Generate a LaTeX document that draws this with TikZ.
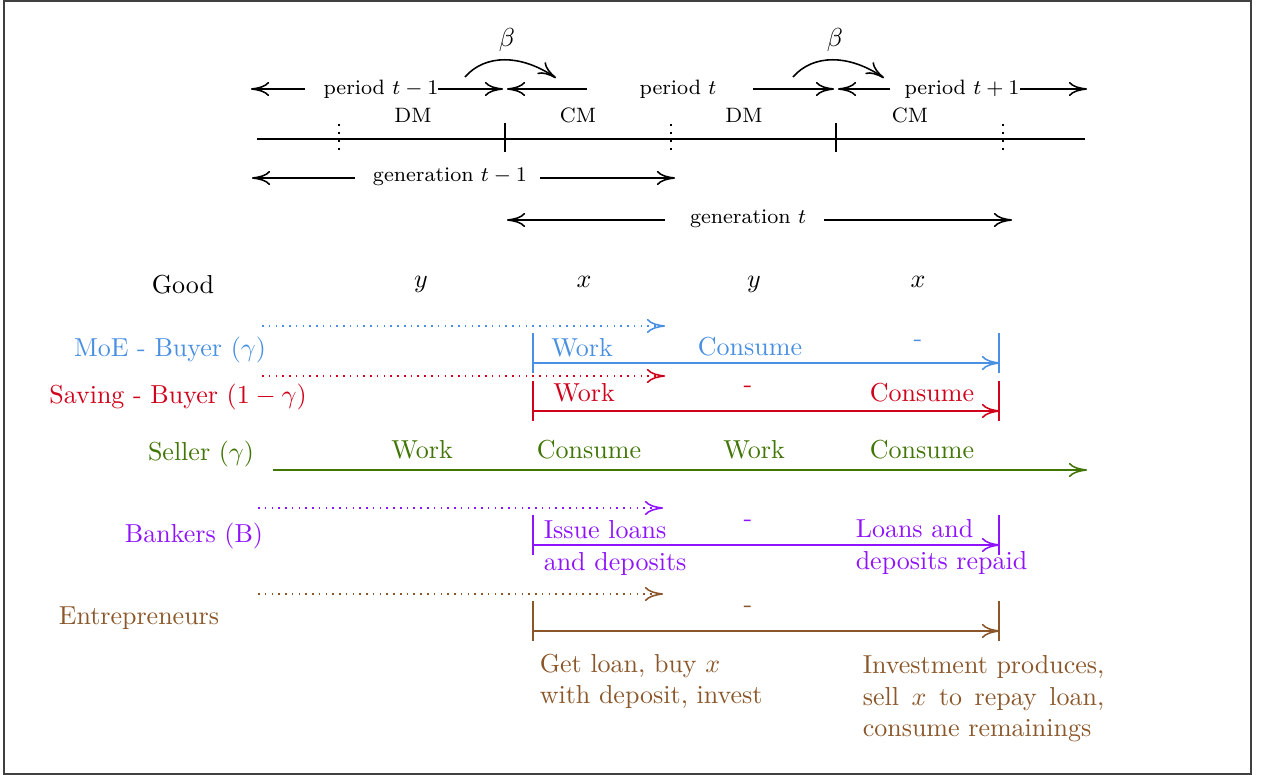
\documentclass[tikz,border=0pt]{standalone}
\usepackage{calc}
\usetikzlibrary{arrows.meta}
\definecolor{cblue}{HTML}{4A90E2}
\definecolor{cred}{HTML}{D0021B}
\definecolor{cgreen}{HTML}{417505}
\definecolor{cpurple}{HTML}{9013FE}
\definecolor{cbrown}{HTML}{8B572A}
\begin{document}
\begin{tikzpicture}[x=0.3846pt,y=-0.3846pt,line width=0.6pt,
  arr/.style={-{Computer Modern Rightarrow[length=7pt,width=5.5pt]}},
  lab/.style={anchor=base,inner sep=0pt},
  sm/.style={lab,font=\footnotesize},
  multi/.style={anchor=north west,inner sep=0pt,align=left},
  vdot/.style={line width=0.8pt,dash pattern=on 0.8pt off 2.3pt},
  dots/.style={arr,dotted}]
\useasboundingbox (0,0) rectangle (1261,775);
\draw[black!75] (4,1) rectangle (1251,774);

% ---------- periods ----------
\node[sm] (p1) at (381,94) {period $t-1$};
\node[sm] (p2) at (678,94) {period $t$};
\node[sm] (p3) at (962,94) {period $t+1$};
\coordinate (p1l) at (305,89); \coordinate (p1le) at (251,89);
\coordinate (p1r) at (438,89); \coordinate (p1re) at (503,89);
\coordinate (p2l) at (587,89); \coordinate (p2le) at (507,89);
\coordinate (p2r) at (753,89); \coordinate (p2re) at (834,89);
\coordinate (p3l) at (890,89); \coordinate (p3le) at (838,89);
\coordinate (p3r) at (1020,89); \coordinate (p3re) at (1087,89);
\draw[arr] (p1l) -- (p1le);
\draw[arr] (p1r) -- (p1re);
\draw[arr] (p2l) -- (p2le);
\draw[arr] (p2r) -- (p2re);
\draw[arr] (p3l) -- (p3le);
\draw[arr] (p3r) -- (p3re);

% beta arcs
\node (b1) at (507,40) {$\beta$};
\node (b2) at (835,40) {$\beta$};
\coordinate (b1s) at (465,77); \coordinate (b1e) at (556,78);
\coordinate (b2s) at (793,77); \coordinate (b2e) at (884,78);
\draw[arr] (b1s) .. controls (485,54) and (521,54) .. (b1e);
\draw[arr] (b2s) .. controls (813,54) and (849,54) .. (b2e);

% main time line
\coordinate (tl) at (257,139); \coordinate (tr) at (1085,139);
\draw (tl) -- (tr);
\coordinate (k1t) at (505,123); \coordinate (k1b) at (505,152);
\coordinate (k2t) at (836,123); \coordinate (k2b) at (836,152);
\draw (k1t) -- (k1b);
\draw (k2t) -- (k2b);
\coordinate (d1t) at (339,124); \coordinate (d1b) at (339,150);
\coordinate (d2t) at (671,124); \coordinate (d2b) at (671,150);
\coordinate (d3t) at (1003,124); \coordinate (d3b) at (1003,150);
\draw[vdot] (d1t) -- (d1b);
\draw[vdot] (d2t) -- (d2b);
\draw[vdot] (d3t) -- (d3b);
\node[sm] (dm1) at (413,123) {DM};
\node[sm] (cm1) at (578,123) {CM};
\node[sm] (dm2) at (744,123) {DM};
\node[sm] (cm2) at (910,123) {CM};

% generations
\node[sm] (g1) at (450,181) {generation $t-1$};
\node[sm] (g2) at (748,223) {generation $t$};
\coordinate (g1l) at (355,178); \coordinate (g1le) at (252,178);
\coordinate (g1r) at (540,178); \coordinate (g1re) at (675,178);
\coordinate (g2l) at (665,220); \coordinate (g2le) at (507,220);
\coordinate (g2r) at (824,220); \coordinate (g2re) at (1012,220);
\draw[arr] (g1l) -- (g1le);
\draw[arr] (g1r) -- (g1re);
\draw[arr] (g2l) -- (g2le);
\draw[arr] (g2r) -- (g2re);

% goods
\node[lab] (good) at (183,293) {Good};
\node[lab] (gy1) at (421,287) {$y$};
\node[lab] (gx1) at (584,287) {$x$};
\node[lab] (gy2) at (754,287) {$y$};
\node[lab] (gx2) at (918,287) {$x$};

% ---------- MoE buyer ----------
\begin{scope}[cblue]
\node[lab] (moe) at (170,356) {MoE - Buyer ($\gamma$)};
\coordinate (moeds) at (262,326); \coordinate (moede) at (665,326);
\draw[dots] (moeds) -- (moede);
\coordinate (moea) at (533,363); \coordinate (moeb) at (1000,363);
\draw[arr] (moea) -- (moeb);
\draw (533,333) -- (533,373);
\draw (999,333) -- (999,373);
\node[lab] (moew) at (582,356) {Work};
\node[lab] (moec) at (750,355) {Consume};
\node[lab] (moen) at (918,346) {-};
\end{scope}

% ---------- Saving buyer ----------
\begin{scope}[cred]
\node[lab] (sav) at (178,403) {Saving - Buyer ($1-\gamma$)};
\coordinate (savds) at (262,376); \coordinate (savde) at (665,376);
\draw[dots] (savds) -- (savde);
\coordinate (sava) at (533,411); \coordinate (savb) at (1000,411);
\draw[arr] (sava) -- (savb);
\draw (533,381) -- (533,421);
\draw (999,381) -- (999,421);
\node[lab] (savw) at (584,401) {Work};
\node[lab] (savn) at (748,392) {-};
\node[lab] (savc) at (922,401) {Consume};
\end{scope}

% ---------- Seller ----------
\begin{scope}[cgreen]
\node[lab] (sel) at (201,460) {Seller ($\gamma$)};
\coordinate (sela) at (273,470); \coordinate (selb) at (1087,470);
\draw[arr] (sela) -- (selb);
\node[lab] (selw1) at (422,458) {Work};
\node[lab] (selc1) at (589,458) {Consume};
\node[lab] (selw2) at (754,458) {Work};
\node[lab] (selc2) at (922,458) {Consume};
\end{scope}

% ---------- Bankers ----------
\begin{scope}[cpurple]
\node[lab] (bank) at (194,542) {Bankers (B)};
\coordinate (bankds) at (258,508); \coordinate (bankde) at (663,508);
\draw[dots] (bankds) -- (bankde);
\coordinate (banka) at (533,545); \coordinate (bankb) at (1000,545);
\draw[arr] (banka) -- (bankb);
\draw (533,515) -- (533,555);
\draw (999,515) -- (999,555);
\node[multi] (banki) at (543,520) {Issue loans\\and deposits};
\node[lab] (bankn) at (748,526) {-};
\node[multi] (bankr) at (855,519) {Loans and\\deposits repaid};
\end{scope}

% ---------- Entrepreneurs ----------
\begin{scope}[cbrown]
\node[lab] (ent) at (139,624) {Entrepreneurs};
\coordinate (entds) at (258,594); \coordinate (entde) at (663,594);
\draw[dots] (entds) -- (entde);
\coordinate (enta) at (533,631); \coordinate (entb) at (1000,631);
\draw[arr] (enta) -- (entb);
\draw (533,601) -- (533,641);
\draw (999,601) -- (999,641);
\node[lab] (entn) at (748,612) {-};
\node[multi] (entg) at (539,653) {Get loan, buy $x$\\with deposit, invest};
\node[multi] (enti) at (862,655) {Investment produces,\\\makebox[\widthof{Investment produces,}][s]{sell $x$ to repay loan,}\\consume remainings};
\end{scope}
\end{tikzpicture}
\end{document}
